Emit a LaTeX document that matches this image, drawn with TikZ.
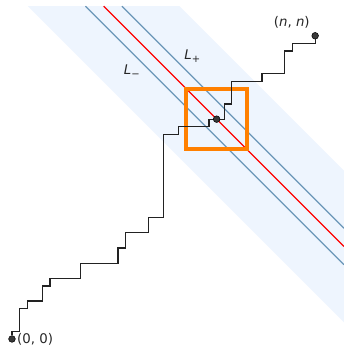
\documentclass[tikz,border=0pt]{standalone}
\usepackage{fontspec}
\setmainfont{DejaVu Sans}
\usepackage{tikz}
\usetikzlibrary{positioning}
\definecolor{bandblue}{HTML}{EEF5FE}
\definecolor{lineblue}{HTML}{6A96B8}
\definecolor{boxorange}{HTML}{FF8000}
\definecolor{walkgray}{HTML}{222222}
\newcommand{\subsym}[1]{\raisebox{-0.45ex}{\fontsize{7.5}{8}\selectfont #1}}

\begin{document}
\begin{tikzpicture}[x=0.2cm, y=0.2cm,
  walk/.style={draw=walkgray, line width=0.95pt},
  bound/.style={draw=lineblue, line width=0.9pt},
  diag/.style={draw=red, line width=1pt},
  endpt/.style={circle, fill=black!78, draw=black, line width=0.4pt, inner sep=0pt, minimum size=5pt},
  window/.style={draw=boxorange, line width=3pt},
  lbl/.style={font=\fontsize{10}{11}\selectfont, text=black!85, inner sep=1pt}
]
  \useasboundingbox (-1.58,-1.06) rectangle (43.8,44.72);

  % band around the anti-diagonal
  \fill[bandblue] (2.1,43.9) -- (22.1,43.9) -- (43.8,22.2) -- (43.8,2.2) -- cycle;

  % the two bounds and the centre line
  \draw[bound] (9.7,43.9) -- (43.8,9.8);
  \draw[bound] (14.5,43.9) -- (43.8,14.6);
  \draw[diag] (12.1,43.9) -- (43.8,12.2);

  \node[lbl] (lminus) at (15.8,35.3) {\textit{L}\subsym{−}};
  \node[lbl] (lplus) at (23.8,37.3) {\textit{L}\subsym{+}};

  % window around the crossing point
  \draw[window] (23,25) rectangle (31,33);

  \node[endpt] (start) at (0,0) {};
  \node[endpt] (end) at (40,40) {};

  % lattice path
  \draw[walk] (start) -- (0,1) -- (1,1) -- (1,4) -- (2,4) -- (2,5) -- (4,5) -- (4,7)
    -- (5,7) -- (5,8) -- (9,8) -- (9,10) -- (14,10) -- (14,12) -- (15,12) -- (15,14)
    -- (18,14) -- (18,16) -- (20,16) -- (20,27) -- (22,27) -- (22,28) -- (26,28)
    -- (26,29) -- (28,29) -- (28,31) -- (29,31) -- (29,34) -- (33,34) -- (33,35)
    -- (36,35) -- (36,38) -- (37,38) -- (37,39) -- (40,39) -- (end);

  \node[endpt] (cross) at (27,29) {};

  \node[lbl, right=0pt of start] (startlbl) {(0, 0)};
  \node[lbl, above left=2.5pt and 1pt of end] (endlbl) {(\textit{n}, \textit{n})};
\end{tikzpicture}
\end{document}
